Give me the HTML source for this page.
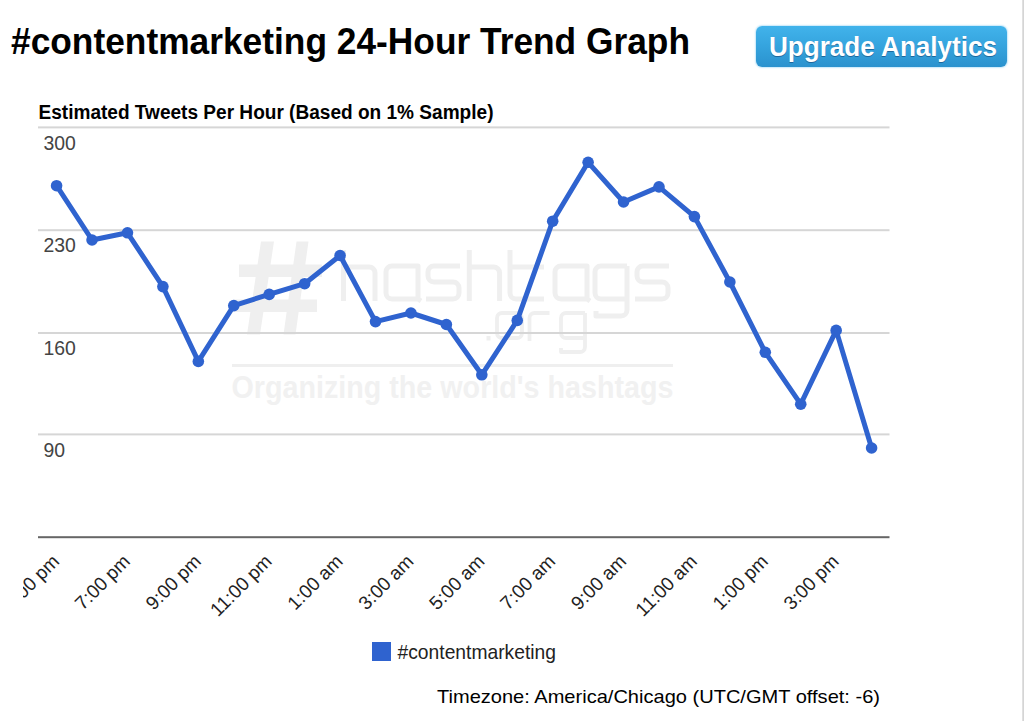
<!DOCTYPE html>
<html><head><meta charset="utf-8"><style>
html,body{margin:0;padding:0;background:#fff;width:1024px;height:721px;overflow:hidden;position:relative}
body{font-family:"Liberation Sans",sans-serif}
.btn{position:absolute;left:756px;top:25.5px;width:250.5px;height:41.2px;border-radius:6px;background:linear-gradient(#41b3eb,#36a5df 45%,#2a92ce);box-shadow:0 0 1.5px 1px #c6e8fa}
.edge{position:absolute;left:1022px;top:0;width:2px;height:721px;background:linear-gradient(90deg,#e6e6e6,#cfcfcf)}
svg{position:absolute;left:0;top:0}
text{font-family:"Liberation Sans",sans-serif}
</style></head><body>
<div class="btn"></div>
<svg width="1024" height="721" viewBox="0 0 1024 721">
 <text x="11" y="53.7" font-weight="bold" font-size="37" textLength="679" lengthAdjust="spacingAndGlyphs" fill="#000">#contentmarketing 24-Hour Trend Graph</text>
 <text x="769" y="56.6" font-weight="bold" font-size="27.6" textLength="228" lengthAdjust="spacingAndGlyphs" fill="#1a5c8f" opacity="0.8">Upgrade Analytics</text>
 <text x="769" y="55.6" font-weight="bold" font-size="27.6" textLength="228" lengthAdjust="spacingAndGlyphs" fill="#fff">Upgrade Analytics</text>
 <g fill="#efefef">
  <path d="M261,241.5 H274 L260,334.5 H247 Z M296.5,241.5 H308.5 L295.5,334.5 H283.5 Z M239,264.5 H322 V277 H239 Z M234,299.5 H317 V312 H234 Z"/>
 </g>
 <g fill="none" stroke="#efefef" stroke-width="5" stroke-linejoin="round">
  <path d="M343.5,250 V301 M343.5,267 H369 a6,6 0 0 1 6,6 V301"/>
  <path d="M418,266 H392 a6,6 0 0 0 -6,6 V293 a6,6 0 0 0 6,6 H418 Z M418,299 l3,2"/>
  <path d="M460,266 H434 a6,6 0 0 0 -6,6 V276 a6,6 0 0 0 6,6 H453 a6,6 0 0 1 6,6 V293 a6,6 0 0 1 -6,6 H426"/>
  <path d="M469.3,250 V301 M469.3,267 H493.6 a6,6 0 0 1 6,6 V301"/>
  <path d="M510,250 V293 a6,6 0 0 0 6,6 H544 M510,267 H544"/>
  <path d="M587,266 H561 a6,6 0 0 0 -6,6 V293 a6,6 0 0 0 6,6 H587 Z M587,299 l3,2"/>
  <path d="M627,266 H601 a6,6 0 0 0 -6,6 V293 a6,6 0 0 0 6,6 H627 M627,266 V310 a6,6 0 0 1 -6,6 H596 V311"/>
  <path d="M669,266 H643 a6,6 0 0 0 -6,6 V276 a6,6 0 0 0 6,6 H662 a6,6 0 0 1 6,6 V293 a6,6 0 0 1 -6,6 H635"/>
 </g>
 <g fill="none" stroke="#efefef" stroke-width="3.8" stroke-linejoin="round">
  <path d="M502,313 H517 a5,5 0 0 1 5,5 V333 a5,5 0 0 1 -5,5 H502 a5,5 0 0 1 -5,-5 V318 a5,5 0 0 1 5,-5 Z"/>
  <path d="M529.5,341 V318 a5,5 0 0 1 5,-5 H549.5"/>
  <path d="M585,313 H566 a5,5 0 0 0 -5,5 V333 a5,5 0 0 0 5,5 H585 M585,313 V347 a5,5 0 0 1 -5,5 H561 V348"/>
 </g>
 <rect x="486.5" y="336" width="4" height="4.5" fill="#efefef"/>
 <rect x="232" y="364" width="441" height="3" fill="#efefef"/>
 <text x="231.5" y="397.8" font-weight="bold" font-size="30.5" textLength="442" lengthAdjust="spacingAndGlyphs" fill="#f1f1f1">Organizing the world's hashtags</text>

 <g fill="#d6d6d6">
  <rect x="38" y="126.4" width="851.5" height="2"/>
  <rect x="38" y="229.2" width="851.5" height="2"/>
  <rect x="38" y="332" width="851.5" height="2"/>
  <rect x="38" y="433.4" width="851.5" height="2"/>
 </g>
 <rect x="38" y="536.2" width="851.5" height="2" fill="#666"/>
 <text x="38.5" y="118.9" font-weight="bold" font-size="20.3" textLength="455" lengthAdjust="spacingAndGlyphs" fill="#000">Estimated Tweets Per Hour (Based on 1% Sample)</text>
 <g font-size="19.4" fill="#444">
  <text x="43.5" y="150">300</text>
  <text x="43.5" y="252">230</text>
  <text x="43.5" y="354.5">160</text>
  <text x="43.5" y="457">90</text>
 </g>
 <polyline points="56.59,185.7 92.03,240.0 127.46,232.8 162.90,286.6 198.33,361.4 233.77,305.6 269.20,294.4 304.63,283.7 340.07,255.5 375.50,321.6 410.94,313.0 446.38,324.5 481.81,374.8 517.25,320.4 552.68,221.2 588.12,162.3 623.55,202.0 658.99,186.9 694.42,216.6 729.86,282.0 765.29,352.3 800.73,404.2 836.16,330.4 871.60,448.0" fill="none" stroke="#2f63cf" stroke-width="5" stroke-linejoin="round"/>
 <g fill="#2f63cf"><circle cx="56.59" cy="185.7" r="5.8"/><circle cx="92.03" cy="240.0" r="5.8"/><circle cx="127.46" cy="232.8" r="5.8"/><circle cx="162.90" cy="286.6" r="5.8"/><circle cx="198.33" cy="361.4" r="5.8"/><circle cx="233.77" cy="305.6" r="5.8"/><circle cx="269.20" cy="294.4" r="5.8"/><circle cx="304.63" cy="283.7" r="5.8"/><circle cx="340.07" cy="255.5" r="5.8"/><circle cx="375.50" cy="321.6" r="5.8"/><circle cx="410.94" cy="313.0" r="5.8"/><circle cx="446.38" cy="324.5" r="5.8"/><circle cx="481.81" cy="374.8" r="5.8"/><circle cx="517.25" cy="320.4" r="5.8"/><circle cx="552.68" cy="221.2" r="5.8"/><circle cx="588.12" cy="162.3" r="5.8"/><circle cx="623.55" cy="202.0" r="5.8"/><circle cx="658.99" cy="186.9" r="5.8"/><circle cx="694.42" cy="216.6" r="5.8"/><circle cx="729.86" cy="282.0" r="5.8"/><circle cx="765.29" cy="352.3" r="5.8"/><circle cx="800.73" cy="404.2" r="5.8"/><circle cx="836.16" cy="330.4" r="5.8"/><circle cx="871.60" cy="448.0" r="5.8"/></g>
 <defs><clipPath id="cl"><rect x="23" y="540" width="1000" height="100"/></clipPath></defs>
 <g font-size="19" fill="#222" clip-path="url(#cl)"><text transform="translate(60.39,562.5) rotate(-45)" text-anchor="end">5:00 pm</text><text transform="translate(131.26,562.5) rotate(-45)" text-anchor="end">7:00 pm</text><text transform="translate(202.13,562.5) rotate(-45)" text-anchor="end">9:00 pm</text><text transform="translate(273.00,562.5) rotate(-45)" text-anchor="end">11:00 pm</text><text transform="translate(343.87,562.5) rotate(-45)" text-anchor="end">1:00 am</text><text transform="translate(414.74,562.5) rotate(-45)" text-anchor="end">3:00 am</text><text transform="translate(485.61,562.5) rotate(-45)" text-anchor="end">5:00 am</text><text transform="translate(556.48,562.5) rotate(-45)" text-anchor="end">7:00 am</text><text transform="translate(627.35,562.5) rotate(-45)" text-anchor="end">9:00 am</text><text transform="translate(698.22,562.5) rotate(-45)" text-anchor="end">11:00 am</text><text transform="translate(769.09,562.5) rotate(-45)" text-anchor="end">1:00 pm</text><text transform="translate(839.96,562.5) rotate(-45)" text-anchor="end">3:00 pm</text></g>
 <rect x="372" y="642" width="19" height="19" fill="#2f63cf"/>
 <text x="397.5" y="658.7" font-size="20.4" textLength="158.5" lengthAdjust="spacingAndGlyphs" fill="#222">#contentmarketing</text>
 <text x="437" y="702.9" font-size="17.7" textLength="443" lengthAdjust="spacingAndGlyphs" fill="#000">Timezone: America/Chicago (UTC/GMT offset: -6)</text>
</svg>
<div class="edge"></div>
</body></html>
